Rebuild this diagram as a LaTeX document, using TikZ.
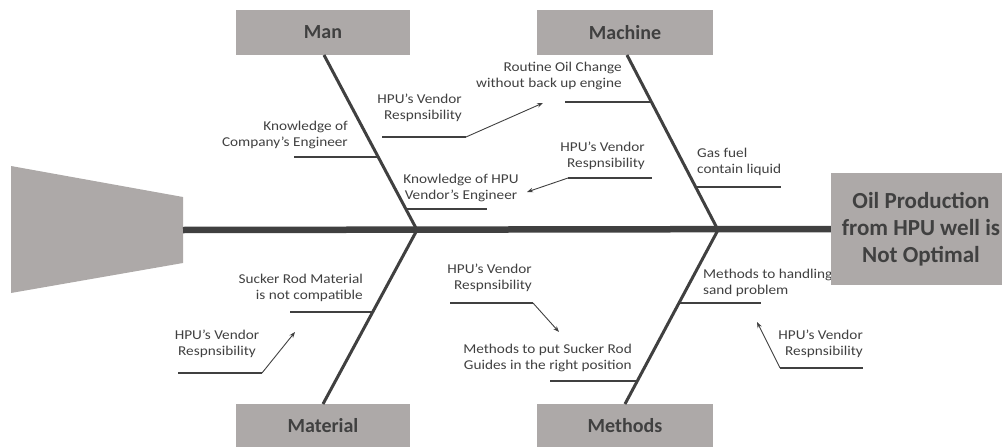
\documentclass[tikz,border=0pt]{standalone}
\usepackage{fontspec}
\setmainfont{Carlito}
\newfontfamily\lblfont[FakeStretch=1.13]{Carlito}
\usetikzlibrary{arrows.meta}
\definecolor{boxgray}{RGB}{173,169,168}
\definecolor{ink}{RGB}{64,64,64}
\tikzset{
  catbox/.style={fill=boxgray,draw=none,text=ink,font=\bfseries\fontsize{20}{24}\selectfont,inner sep=0pt},
  headbox/.style={fill=boxgray,draw=none,text=ink,font=\bfseries\fontsize{23}{27}\selectfont,inner sep=0pt,align=center},
  lbl/.style={text=ink,font=\lblfont\fontsize{13.5}{15.5}\selectfont,inner sep=0pt},
  spine/.style={draw=ink,line width=6.5pt},
  bone/.style={draw=ink,line width=3pt},
  sub/.style={draw=ink,line width=2pt},
  arr/.style={draw=ink,line width=0.9pt,-{Stealth[length=6pt,width=4.5pt]}},
}
\begin{document}
\begin{tikzpicture}[x=1pt,y=-1pt]
\useasboundingbox (0,0) rectangle (1002,447);
% tail
\fill[boxgray] (11,166) -- (183,197) -- (183,263) -- (11,293) -- cycle;
\coordinate (tail) at (183,230);
\coordinate (j1) at (417,230);
\coordinate (j2) at (718,230);
% category boxes
\node[catbox,minimum width=174pt,minimum height=45pt] (man) at (323,32.5) {Man};
\node[catbox,minimum width=176pt,minimum height=45pt] (machine) at (625,32.5) {Machine};
\node[catbox,minimum width=174pt,minimum height=43pt] (material) at (323,425.5) {Material};
\node[catbox,minimum width=176pt,minimum height=43pt] (methods) at (625,425.5) {Methods};
% bones
\draw[bone] (324,55) -- (j1);
\draw[bone] (627,55) -- (j2);
\draw[bone] (j1) -- (323,404);
\draw[bone] (j2) -- (625,404);
% sub-branch coordinates
\coordinate (a1) at (294,157); \coordinate (a2) at (378,157);
\coordinate (b1) at (382,137); \coordinate (b2) at (466,137);
\coordinate (c1) at (406,209); \coordinate (c2) at (487,209);
\coordinate (d1) at (565,102); \coordinate (d2) at (651,102);
\coordinate (e1) at (568,178); \coordinate (e2) at (652,178);
\coordinate (f1) at (696,187); \coordinate (f2) at (781,187);
\coordinate (g1) at (290,312); \coordinate (g2) at (373,312);
\coordinate (h1) at (178,373); \coordinate (h2) at (262,373);
\coordinate (i1) at (450,303); \coordinate (i2) at (533,303);
\coordinate (k1) at (550,381); \coordinate (k2) at (637,381);
\coordinate (l1) at (679,303); \coordinate (l2) at (761,303);
\coordinate (m1) at (780,368); \coordinate (m2) at (863,368);
\foreach \p in {a,b,c,d,e,f,g,h,i,k,l,m} \draw[sub] (\p1) -- (\p2);
% arrow targets
\coordinate (tb) at (543,103);
\coordinate (te) at (527,192);
\coordinate (th) at (295,332);
\coordinate (ti) at (559,332);
\coordinate (tm) at (757,322);
\draw[arr] (b2) -- (tb);
\draw[arr] (e1) -- (te);
\draw[arr] (h2) -- (th);
\draw[arr] (i2) -- (ti);
\draw[arr] (m1) -- (tm);
% labels
\node[lbl,align=right,anchor=east] (ta) at (348,135) {Knowledge of\\Company’s Engineer};
\node[lbl,align=right,anchor=east] (tbl) at (462,108) {HPU’s Vendor\\Respnsibility};
\node[lbl,align=center] (tc) at (461,188) {Knowledge of HPU\\Vendor’s Engineer};
\node[lbl,align=right,anchor=east] (td) at (622,76) {Routine Oil Change\\without back up engine};
\node[lbl,align=right,anchor=east] (tel) at (645,156) {HPU’s Vendor\\Respnsibility};
\node[lbl,align=left,anchor=west] (tf) at (697,162) {Gas fuel\\contain liquid};
\node[lbl,align=right,anchor=east] (tg) at (363,288) {Sucker Rod Material\\is not compatible};
\node[lbl,align=center] (thl) at (217,344) {HPU’s Vendor\\Respnsibility};
\node[lbl,align=right,anchor=east] (til) at (532,278) {HPU’s Vendor\\Respnsibility};
\node[lbl,align=right,anchor=east] (tk) at (632,358) {Methods to put Sucker Rod\\Guides in the right position};
\node[lbl,align=left,anchor=west] (tl) at (703,283) {Methods to handling\\sand problem};
\node[lbl,align=right,anchor=east] (tml) at (863,344) {HPU’s Vendor\\Respnsibility};
% head
\node[headbox,minimum width=180pt,minimum height=112pt] (head) at (921,229) {Oil Production\\from HPU well is\\Not Optimal};
\draw[spine] (tail) -- (head.west);
\end{tikzpicture}
\end{document}
